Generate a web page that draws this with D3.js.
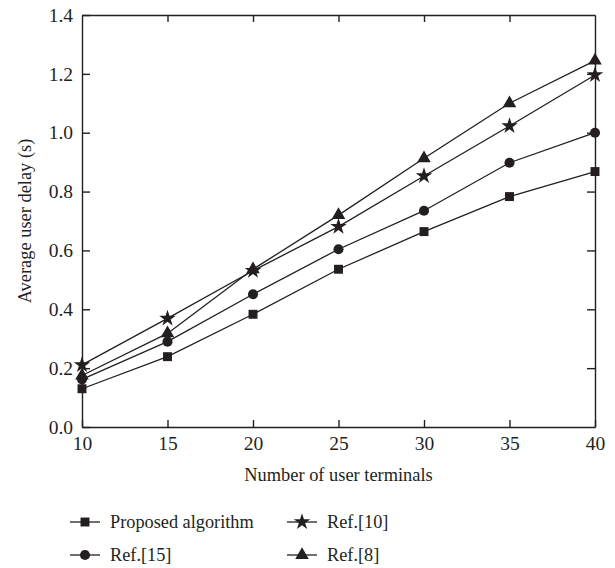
<!DOCTYPE html>
<html>
<head>
<meta charset="utf-8">
<script src="https://cdn.jsdelivr.net/npm/d3@7"></script>
<style>
  body { margin: 0; background: #fff; }
  svg text { font-family: "Liberation Serif", "DejaVu Serif", serif; fill: #231f20; }
</style>
</head>
<body>
<svg id="chart"></svg>
<script>
const terminals = [10, 15, 20, 25, 30, 35, 40];
const proposed = [0.13, 0.239, 0.383, 0.536, 0.664, 0.783, 0.868];
const ref15 = [0.162, 0.29, 0.451, 0.604, 0.735, 0.898, 1.0];
const ref10 = [0.211, 0.369, 0.531, 0.681, 0.853, 1.023, 1.196];
const ref8 = [0.175, 0.318, 0.536, 0.72, 0.913, 1.10, 1.245];
const seriesNames = ["Proposed algorithm", "Ref.[15]", "Ref.[10]", "Ref.[8]"];
const xTicks = [10, 15, 20, 25, 30, 35, 40];
const yTicks = [0, 0.2, 0.4, 0.6, 0.8, 1.0, 1.2, 1.4];

const margin = { top: 15, right: 20, bottom: 141, left: 82 };
const width = 615 - margin.left - margin.right;
const height = 568 - margin.top - margin.bottom;
const ink = "#231f20";

const svg = d3.select("#chart")
  .attr("width", 615)
  .attr("height", 568)
  .append("g")
  .attr("transform", `translate(${margin.left},${margin.top})`);

const x = d3.scaleLinear().domain([10, 40]).range([0, width]);
const y = d3.scaleLinear().domain([0, 1.4]).range([height, 0]);

// axes with inward ticks
const axisBottomG = svg.append("g")
  .attr("transform", `translate(0,${height})`)
  .call(d3.axisBottom(x).tickValues(xTicks).tickSizeInner(-7).tickSizeOuter(0).tickPadding(9).tickFormat(d3.format("d")));
const axisLeftG = svg.append("g")
  .call(d3.axisLeft(y).tickValues(yTicks).tickSizeInner(-8).tickSizeOuter(0).tickPadding(9).tickFormat(d3.format(".1f")));
const axisTopG = svg.append("g")
  .call(d3.axisTop(x).tickValues(xTicks.slice(1, -1)).tickSizeInner(-7).tickSizeOuter(0).tickFormat(""));
const axisRightG = svg.append("g")
  .attr("transform", `translate(${width},0)`)
  .call(d3.axisRight(y).tickValues(yTicks.slice(1, -1)).tickSizeInner(-8).tickSizeOuter(0).tickFormat(""));

[axisBottomG, axisLeftG, axisTopG, axisRightG].forEach(g => {
  g.selectAll("path, line").attr("stroke", ink).attr("stroke-width", 1.4);
  g.selectAll("text").attr("font-size", 19.5).attr("fill", ink)
    .style("font-family", "'Liberation Serif', 'DejaVu Serif', serif");
});

const series = [
  { name: seriesNames[0], values: proposed, symbol: d3.symbolSquare, size: 80 },
  { name: seriesNames[1], values: ref15, symbol: d3.symbolCircle, size: 80 },
  { name: seriesNames[2], values: ref10, symbol: d3.symbolStar, size: 85 },
  { name: seriesNames[3], values: ref8, symbol: d3.symbolTriangle, size: 80 }
];

const line = d3.line()
  .x((d, i) => x(terminals[i]))
  .y(d => y(d));

series.forEach(s => {
  svg.append("path")
    .datum(s.values)
    .attr("fill", "none")
    .attr("stroke", ink)
    .attr("stroke-width", 1.3)
    .attr("d", line);

  svg.selectAll(null)
    .data(s.values)
    .enter()
    .append("path")
    .attr("d", d3.symbol().type(s.symbol).size(s.size))
    .attr("fill", ink)
    .attr("transform", (d, i) => `translate(${x(terminals[i])},${y(d)})`);
});

svg.append("text")
  .attr("x", width / 2)
  .attr("y", height + 54)
  .attr("text-anchor", "middle")
  .attr("font-size", 18.4)
  .text("Number of user terminals");

svg.append("text")
  .attr("x", -height / 2)
  .attr("y", -51)
  .attr("text-anchor", "middle")
  .attr("transform", "rotate(-90)")
  .attr("font-size", 18.4)
  .text("Average user delay (s)");

// legend
const legendPos = [[70, 522], [70, 555], [287, 522], [287, 555]];
series.forEach((s, j) => {
  const [lx, ly] = legendPos[j];
  const g = d3.select("#chart").append("g").attr("transform", `translate(${lx},${ly})`);
  g.append("line").attr("x1", 0).attr("x2", 30).attr("stroke", ink).attr("stroke-width", 1.3);
  g.append("path")
    .attr("d", d3.symbol().type(s.symbol).size(s.size))
    .attr("fill", ink)
    .attr("transform", "translate(15,0)");
  g.append("text")
    .attr("x", 40)
    .attr("y", 6)
    .attr("font-size", 18.3)
    .text(s.name);
});
</script>
</body>
</html>
